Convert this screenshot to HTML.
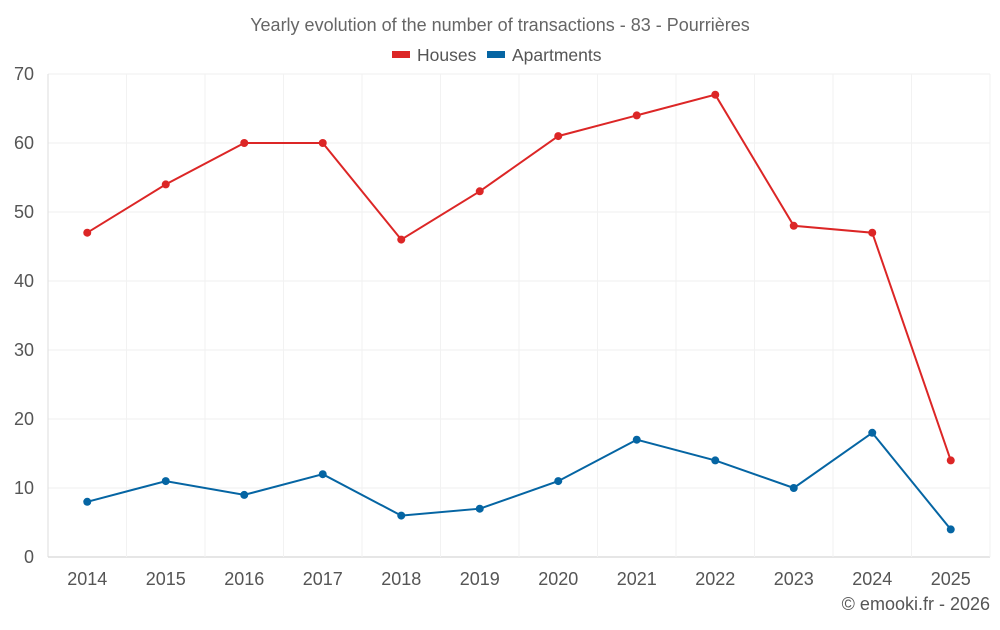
<!DOCTYPE html>
<html><head><meta charset="utf-8"><style>
body{margin:0;background:#fff;font-family:"Liberation Sans",sans-serif;}
svg text{font-family:"Liberation Sans",sans-serif;}
</style></head><body>
<svg id="chart" width="1000" height="625">
<text x="500" y="31" text-anchor="middle" font-size="18" fill="#666">Yearly evolution of the number of transactions - 83 - Pourrières</text>
<g>
<g><rect x="392" y="51" width="18" height="7" fill="#dc2626"/><text x="417" y="61" font-size="17.5" fill="#555">Houses</text></g>
<g><rect x="487" y="51" width="18" height="7" fill="#0565a3"/><text x="512" y="61" font-size="17.5" fill="#555">Apartments</text></g>
</g>
<g id="grid"></g><g id="axes"></g><g id="series"></g>
<text x="990" y="610" text-anchor="end" font-size="18" fill="#555">© emooki.fr - 2026</text>
</svg>
<script>
const years=["2014","2015","2016","2017","2018","2019","2020","2021","2022","2023","2024","2025"];
const houses=[47,54,60,60,46,53,61,64,67,48,47,14];
const apartments=[8,11,9,12,6,7,11,17,14,10,18,4];
const yTicks=[0,10,20,30,40,50,60,70];
const NS="http://www.w3.org/2000/svg";
const L=48,R=990,T=74,B=557,yMax=70;
const step=(R-L)/years.length;
const x=i=>L+step*(i+0.5);
const y=v=>B-(v/yMax)*(B-T);
function mk(tag,attrs,parent){const e=document.createElementNS(NS,tag);for(const k in attrs)e.setAttribute(k,attrs[k]);parent.appendChild(e);return e;}
const grid=document.getElementById('grid'),axes=document.getElementById('axes'),ser=document.getElementById('series');
yTicks.forEach(t=>{
 const l=mk('line',{x1:L,x2:R,y1:y(t),y2:y(t),stroke:t===0?'#ccc':'#efefef'},grid);
 
 
 const tx=mk('text',{x:34,y:y(t)+6,'text-anchor':'end','font-size':18,fill:'#555'},axes);
 tx.textContent=t;
 
 
});
for(let i=0;i<=years.length;i++){
 const l=mk('line',{x1:L+step*i,x2:L+step*i,y1:T,y2:B,stroke:'#f2f2f2'},grid);
 
 
}
mk('line',{x1:L,x2:L,y1:T,y2:B,stroke:'#ddd'},axes);
years.forEach((yr,i)=>{
 const tx=mk('text',{x:x(i),y:585,'text-anchor':'middle','font-size':18,fill:'#555'},axes);
 tx.textContent=yr;
 
 
});
function draw(vals,color,name){
 const p=mk('polyline',{points:vals.map((v,i)=>x(i)+','+y(v)).join(' '),fill:'none',stroke:color,'stroke-width':2},ser);
 
 
 vals.forEach((v,i)=>{
  const c=mk('circle',{cx:x(i),cy:y(v),r:4,fill:color},ser);
  
  
 });
}
draw(houses,'#dc2626','houses');
draw(apartments,'#0565a3','apartments');
</script>
</body></html>
